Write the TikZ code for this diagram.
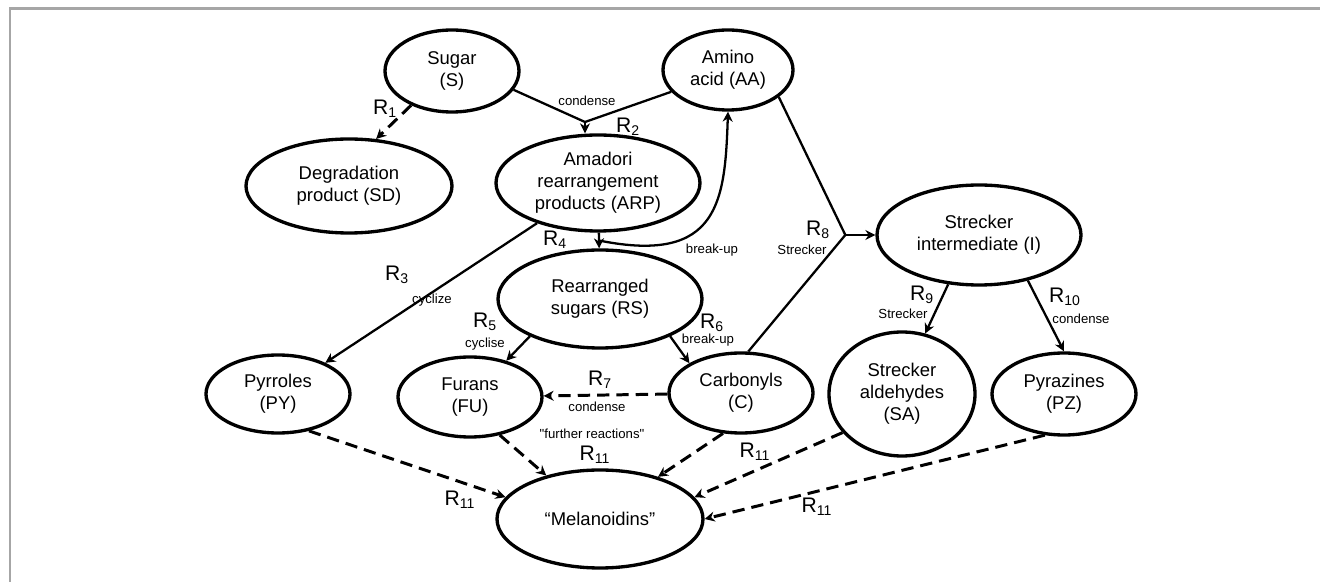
\documentclass[tikz,border=0pt]{standalone}
\usepackage{fontspec}
\setmainfont{Liberation Sans}
\usetikzlibrary{arrows.meta,positioning,calc,shapes.geometric}

\newcommand{\rxn}[1]{R\textsubscript{#1}}

\begin{document}
\begin{tikzpicture}[
    species/.style={ellipse, draw, line width=1.9pt, inner sep=0pt, align=center, font=\fontsize{10.5}{12.5}\selectfont},
    link/.style={line width=1.3pt},
    arr/.style={link, -{Stealth[length=2mm, width=2mm]}},
    darr/.style={arr, line width=1.7pt, dash pattern=on 7pt off 4pt},
    rlab/.style={font=\fontsize{12}{14}\selectfont, inner sep=0pt},
    note/.style={font=\fontsize{7.5}{9}\selectfont, inner sep=0pt}
  ]
  \useasboundingbox (0,0) rectangle (26.4,-11.64);
  \draw[gray!70, line width=1.2pt] (0.2,-11.64) -- (0.2,-0.17) -- (26.4,-0.17);

  % species
  \node[species, minimum width=2.68cm, minimum height=1.64cm] (S) at (9.04,-1.42) {Sugar\\(S)};
  \node[species, minimum width=2.6cm, minimum height=1.6cm] (AA) at (14.56,-1.4) {Amino\\acid (AA)};
  \node[species, minimum width=4.12cm, minimum height=1.88cm] (SD) at (6.98,-3.72) {Degradation\\product (SD)};
  \node[species, minimum width=4.08cm, minimum height=1.92cm] (ARP) at (11.96,-3.66) {Amadori\\rearrangement\\products (ARP)};
  \node[species, minimum width=4.08cm, minimum height=1.96cm] (RS) at (12,-5.98) {Rearranged\\sugars (RS)};
  \node[species, minimum width=4.08cm, minimum height=2cm] (SI) at (19.58,-4.7) {Strecker\\intermediate (I)};
  \node[species, minimum width=2.88cm, minimum height=1.56cm] (PY) at (5.56,-7.88) {Pyrroles\\(PY)};
  \node[species, minimum width=2.88cm, minimum height=1.6cm] (FU) at (9.4,-7.94) {Furans\\(FU)};
  \node[species, minimum width=2.88cm, minimum height=1.6cm] (C) at (14.82,-7.86) {Carbonyls\\(C)};
  \node[species, minimum width=2.92cm, minimum height=2.48cm] (SA) at (18.04,-7.88) {Strecker\\aldehydes\\(SA)};
  \node[species, minimum width=2.88cm, minimum height=1.64cm] (PZ) at (21.28,-7.88) {Pyrazines\\(PZ)};
  \node[species, minimum width=4.12cm, minimum height=1.96cm] (Mel) at (12,-10.38) {``Melanoidins''};

  \coordinate (j2) at (11.7,-2.44);
  \coordinate (j8) at ($(SI.west)+(-0.6,0)$);
  \coordinate (brk) at ($(ARP.south)!0.5!(RS.north)$);

  % reactions
  \draw[darr] (S.220) -- (SD.60);
  \draw[link] (S.-17) -- (j2);
  \draw[link] (AA.201) -- (j2);
  \draw[arr] (j2) -- (j2 |- ARP.north);
  \draw[arr] (ARP) -- (PY);
  \draw[arr] (ARP) -- (RS);
  \draw[arr] (brk) .. controls (14.4,-5.3) and (14.5,-4) .. (AA.south);
  \draw[arr] (RS.208) -- (FU.45);
  \draw[arr] (RS.332) -- (C.150);
  \draw[darr] (C) -- (FU);
  \draw[link] (C.80) -- (j8);
  \draw[link] (AA.-28) -- (j8);
  \draw[arr] (j8) -- (SI);
  \draw[arr] (SI.238) -- (SA.69);
  \draw[arr] (SI.-43) -- (PZ.north);
  \draw[darr] (PY.-50) -- (Mel.167);
  \draw[darr] (FU.-52) -- (Mel.141);
  \draw[darr] (C.246) -- (Mel.36);
  \draw[darr] (SA.213) -- (Mel.13);
  \draw[darr] (PZ.245) -- (Mel.east);

  % labels
  \node[rlab] (r1) at (7.7,-2.18) {\rxn{1}};
  \node[note] (n2) at (11.74,-2.02) {condense};
  \node[rlab] (r2) at (12.56,-2.54) {\rxn{2}};
  \node[rlab] (r3) at (7.94,-5.5) {\rxn{3}};
  \node[note] (n3) at (8.64,-6) {cyclize};
  \node[rlab] (r4) at (11.1,-4.8) {\rxn{4}};
  \node[note] (n4) at (14.24,-5) {break-up};
  \node[rlab] (r5) at (9.7,-6.44) {\rxn{5}};
  \node[note] (n5) at (9.7,-6.88) {cyclise};
  \node[rlab] (r6) at (14.24,-6.46) {\rxn{6}};
  \node[note] (n6) at (14.16,-6.8) {break-up};
  \node[rlab] (r7) at (12,-7.6) {\rxn{7}};
  \node[note] (n7) at (11.94,-8.14) {condense};
  \node[note] (nfr) at (11.84,-8.68) {\textquotedbl further reactions\textquotedbl};
  \node[rlab] (r8) at (16.36,-4.6) {\rxn{8}};
  \node[note] (n8) at (16.04,-5) {Strecker};
  \node[rlab] (r9) at (18.44,-5.9) {\rxn{9}};
  \node[note] (n9) at (18.06,-6.28) {Strecker};
  \node[rlab] (r10) at (21.3,-5.94) {\rxn{10}};
  \node[note] (n10) at (21.62,-6.38) {condense};
  \node[rlab] (r11a) at (11.9,-9.1) {\rxn{11}};
  \node[rlab] (r11b) at (9.2,-10) {\rxn{11}};
  \node[rlab] (r11c) at (15.1,-9.04) {\rxn{11}};
  \node[rlab] (r11d) at (16.34,-10.14) {\rxn{11}};
\end{tikzpicture}
\end{document}
